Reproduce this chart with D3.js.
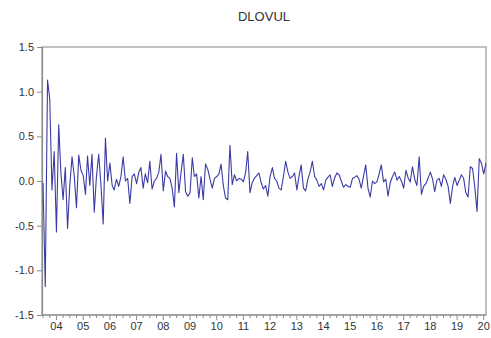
<!DOCTYPE html>
<html>
<head>
<meta charset="utf-8">
<script src="https://cdn.jsdelivr.net/npm/d3@7"></script>
<style>
  html, body { margin: 0; padding: 0; background: #fff; }
  svg { display: block; font-family: "Liberation Sans", Arial, sans-serif; }
</style>
</head>
<body>
<svg id="chart" width="491" height="338"></svg>
<script>
// Series: DLOVUL, monthly, first observation 2003M07
const seriesName = "DLOVUL";
const startYear = 2003;
const startMonth = 7;
const dlovul = [
  -0.02, -1.18, 1.13, 0.92, -0.10, 0.33, -0.57, 0.63, 0.10, -0.21, 0.15, -0.53,
  -0.05, 0.27, 0.05, -0.30, 0.29, 0.12, 0.06, -0.15, 0.28, -0.05, 0.30, -0.35,
  0.05, 0.30, -0.05, -0.48, 0.48, 0.00, 0.20, -0.05, -0.10, 0.02, -0.06, 0.05,
  0.27, 0.00, 0.03, -0.25, 0.05, 0.08, -0.03, 0.10, 0.15, -0.08, 0.08, -0.02,
  0.22, -0.09, 0.00, 0.03, 0.10, 0.30, -0.11, 0.11, 0.05, 0.03, -0.08, -0.29,
  0.31, -0.13, 0.10, 0.30, -0.12, -0.17, -0.13, 0.26, 0.05, 0.08, -0.19, 0.05,
  -0.21, 0.19, 0.13, 0.02, -0.08, 0.03, 0.05, 0.08, 0.19, -0.05, -0.19, -0.21,
  0.40, -0.04, 0.07, 0.00, 0.03, 0.02, -0.01, 0.10, 0.33, -0.13, -0.02, 0.03,
  0.06, 0.09, -0.02, -0.09, -0.05, -0.17, 0.05, 0.15, 0.03, 0.00, -0.08, -0.10,
  0.05, 0.22, 0.10, 0.03, 0.05, 0.09, -0.10, 0.06, 0.18, -0.08, -0.11, 0.02,
  0.10, 0.22, 0.05, 0.01, -0.06, -0.03, -0.10, 0.01, 0.04, 0.07, -0.06, 0.03,
  0.09, 0.07, 0.00, -0.07, -0.04, -0.06, -0.07, 0.03, 0.04, 0.06, 0.02, -0.08,
  0.05, 0.18, -0.08, -0.18, 0.00, -0.03, -0.01, 0.08, 0.18, -0.01, 0.02, -0.17,
  -0.02, 0.05, 0.10, 0.01, 0.05, 0.00, -0.08, 0.12, 0.04, -0.01, 0.16, 0.02,
  -0.05, 0.27, -0.15, -0.06, -0.03, 0.03, 0.10, 0.02, -0.12, 0.01, 0.03, -0.06,
  0.07, 0.02, -0.06, -0.25, -0.06, 0.04, -0.05, 0.01, 0.07, 0.03, -0.13, -0.18,
  0.16, 0.14, -0.07, -0.34, 0.25, 0.20, 0.08, 0.20
];
const yTicks = [-1.5, -1.0, -0.5, 0.0, 0.5, 1.0, 1.5];
const yearLabels = ["04", "05", "06", "07", "08", "09", "10", "11", "12", "13", "14", "15", "16", "17", "18", "19", "20"];
const firstLabelYear = 2004;

const svg = d3.select("#chart");
const margin = { left: 42, right: 5, top: 47, bottom: 23 };
const W = 491, H = 338;
const plotL = margin.left, plotR = W - margin.right;
const plotT = margin.top, plotB = H - margin.bottom;

const data = dlovul.map((v, i) => ({ date: new Date(startYear, startMonth - 1 + i, 1), v }));

const x = d3.scaleTime()
  .domain([data[0].date, data[data.length - 1].date])
  .range([plotL + 1, plotR]);
const y = d3.scaleLinear().domain([-1.5, 1.5]).range([plotB, plotT]);

const axisColor = "#8c8c8c";
const textColor = "#333";

// Frame
svg.append("rect")
  .attr("x", plotL).attr("y", plotT)
  .attr("width", plotR - plotL).attr("height", plotB - plotT)
  .attr("fill", "none").attr("stroke", "#a6a6a6").attr("stroke-width", 1.4);

// Y axis
const yAxis = d3.axisLeft(y).tickValues(yTicks).tickFormat(d3.format(".1f")).tickSize(5).tickPadding(3);
const gy = svg.append("g").attr("transform", `translate(${plotL},0)`).call(yAxis);
gy.select(".domain").attr("stroke", axisColor).attr("stroke-width", 1.2);
gy.selectAll(".tick line").attr("stroke", axisColor);
gy.selectAll(".tick text").attr("fill", textColor).style("font-size", "11px")
  .text(d => d3.format(".1f")(d).replace("−", "-"));

// X axis: quarterly minor ticks, yearly major ticks with two-digit labels
const qDates = d3.timeMonth.every(3).range(new Date(startYear, 6, 1), new Date(2020, 3, 1))
  .filter(d => x(d) <= plotR + 0.5);
const gx = svg.append("g").attr("transform", `translate(0,${plotB})`);
gx.append("line").attr("x1", plotL).attr("x2", plotR).attr("stroke", axisColor).attr("stroke-width", 1.2);
gx.selectAll("line.minor").data(qDates).join("line")
  .attr("class", "minor")
  .attr("x1", d => x(d)).attr("x2", d => x(d))
  .attr("y1", 0).attr("y2", d => d.getMonth() === 0 ? 5 : 3)
  .attr("stroke", axisColor);
const labelDates = yearLabels.map((s, i) => new Date(firstLabelYear + i, 0, 1));
gx.selectAll("text.year").data(labelDates).join("text")
  .attr("class", "year")
  .attr("x", d => x(d)).attr("y", 15)
  .attr("text-anchor", "middle")
  .attr("fill", textColor).style("font-size", "11px")
  .text((d, i) => yearLabels[i]);

// Series line
const line = d3.line().x(d => x(d.date)).y(d => y(d.v));
svg.append("path").datum(data)
  .attr("d", line)
  .attr("fill", "none")
  .attr("stroke", "#3b3ba6")
  .attr("stroke-width", 1.1)
  .attr("stroke-linejoin", "round");

// Title
svg.append("text")
  .attr("x", (plotL + plotR) / 2).attr("y", 21)
  .attr("text-anchor", "middle")
  .attr("fill", textColor).style("font-size", "13px")
  .text(seriesName);
</script>
</body>
</html>
